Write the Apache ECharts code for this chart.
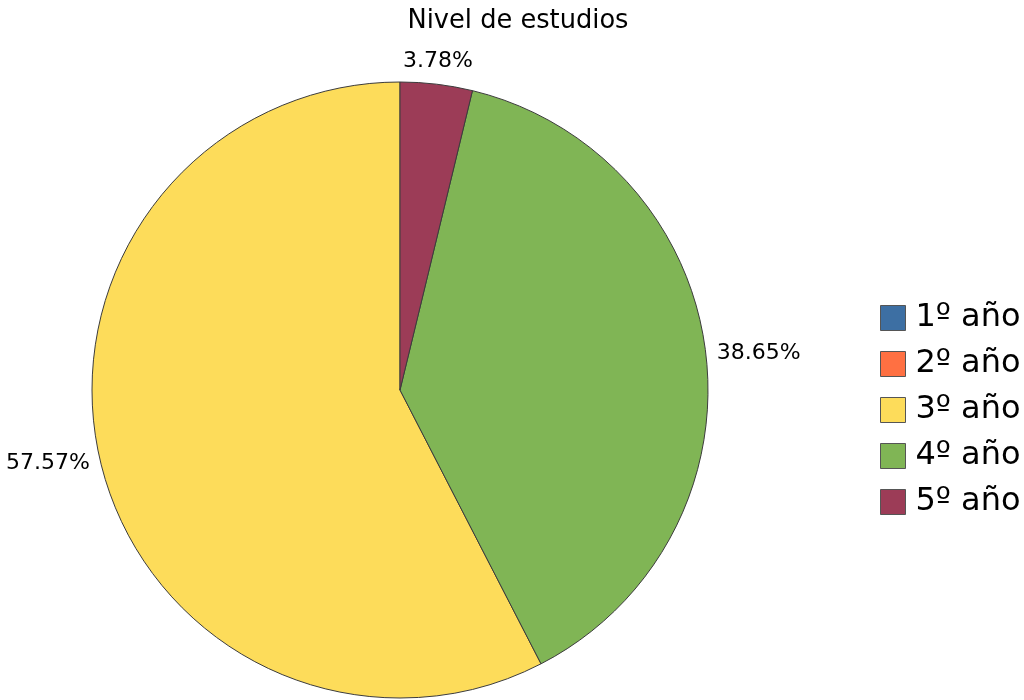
<!DOCTYPE html>
<html>
<head>
<meta charset="utf-8">
<title>Nivel de estudios</title>
<script src="https://cdn.jsdelivr.net/npm/echarts@6/dist/echarts.min.js"></script>
<style>
  html, body { margin: 0; padding: 0; background: #ffffff; }
  #chart { width: 1024px; height: 700px; }
</style>
</head>
<body>
<div id="chart"></div>
<script>
// Share of respondents by year of study (percent)
const categories = ['1º año', '2º año', '3º año', '4º año', '5º año'];
const shares = [0, 0, 57.57, 38.65, 3.78];
const sliceColors = ['#3d6fa3', '#ff7042', '#fddc5a', '#80b555', '#9c3c57'];

const FONT = '"DejaVu Sans", "Liberation Sans", sans-serif';

const pieData = categories.map((name, i) => ({
  name: name,
  value: shares[i],
  itemStyle: { color: sliceColors[i] },
  label: { show: shares[i] > 0 }
}));

const chart = echarts.init(document.getElementById('chart'), null, { renderer: 'canvas' });

chart.setOption({
  backgroundColor: '#ffffff',
  animation: false,
  title: {
    text: 'Nivel de estudios',
    left: 513,
    top: 3,
    textAlign: 'center',
    textStyle: { fontFamily: FONT, fontSize: 25.7, fontWeight: 'normal', color: '#000000' }
  },
  legend: {
    orient: 'vertical',
    left: 875,
    top: 297,
    itemWidth: 25,
    itemHeight: 25,
    itemGap: 14,
    icon: 'rect',
    selectedMode: false,
    itemStyle: { borderColor: '#555555', borderWidth: 1 },
    textStyle: {
      fontFamily: FONT, fontSize: 32, color: '#000000',
      padding: [0, 0, 0, 5]
    },
    data: categories
  },
  series: [{
    type: 'pie',
    center: [400, 390],
    radius: 308,
    startAngle: 90,
    clockwise: false,
    avoidLabelOverlap: false,
    stillShowZeroSum: false,
    itemStyle: { borderColor: '#3c3c3c', borderWidth: 1 },
    emphasis: { disabled: true },
    label: {
      show: true,
      position: 'outside',
      formatter: p => p.value.toFixed(2) + '%',
      fontFamily: FONT,
      fontSize: 22,
      color: '#000000',
      bleedMargin: 0
    },
    labelLine: { show: false, length: 4, length2: 0 },
    labelLayout: function (params) {
      // the thin top slice gets its label centred above the rim
      if (params.dataIndex === 4) {
        return { align: 'center', dx: -4, dy: -19 };
      }
      if (params.dataIndex === 3) {
        return { dx: 2 };
      }
      if (params.dataIndex === 2) {
        return { dx: -2 };
      }
      return {};
    },
    data: pieData
  }]
});
</script>
</body>
</html>
